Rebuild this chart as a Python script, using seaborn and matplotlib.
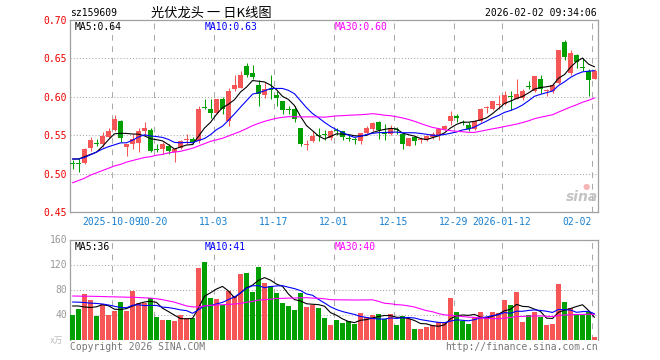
import numpy as np
import pandas as pd
import matplotlib
matplotlib.use("Agg")
import matplotlib.pyplot as plt
import seaborn as sns

# ---------------- data ----------------
open_ = [0.5128, 0.5130, 0.5140, 0.5335, 0.5392, 0.5380, 0.5480, 0.5565, 0.5680, 0.5350,
         0.5380, 0.5400, 0.5560, 0.5574, 0.5315, 0.5320, 0.5365, 0.5280, 0.5335, 0.5438,
         0.5457, 0.5420, 0.5859, 0.5835, 0.5790, 0.5970, 0.5680, 0.6096, 0.6120, 0.6400,
         0.6313, 0.6160, 0.6017, 0.6089, 0.6017, 0.5940, 0.5828, 0.5840, 0.5596, 0.5378,
         0.5430, 0.5489, 0.5512, 0.5465, 0.5554, 0.5550, 0.5459, 0.5437, 0.5422, 0.5530,
         0.5587, 0.5670, 0.5522, 0.5520, 0.5567, 0.5520, 0.5365, 0.5480, 0.5438, 0.5440,
         0.5474, 0.5504, 0.5580, 0.5680, 0.5754, 0.5669, 0.5636, 0.5580, 0.5680, 0.5853,
         0.5846, 0.5898, 0.5900, 0.6002, 0.5974, 0.5987, 0.6134, 0.6075, 0.6237, 0.6073,
         0.6075, 0.6184, 0.6710, 0.6316, 0.6544, 0.6382, 0.6338, 0.6237]
high = [0.5180, 0.5200, 0.5330, 0.5480, 0.5457, 0.5540, 0.5596, 0.5757, 0.5696, 0.5380,
        0.5520, 0.5596, 0.5670, 0.5596, 0.5380, 0.5410, 0.5380, 0.5330, 0.5440, 0.5510,
        0.5480, 0.5880, 0.5970, 0.5965, 0.5965, 0.6000, 0.6120, 0.6290, 0.6335, 0.6440,
        0.6420, 0.6217, 0.6190, 0.6280, 0.6070, 0.5940, 0.5880, 0.5880, 0.5596, 0.5440,
        0.5550, 0.5596, 0.5570, 0.5570, 0.5596, 0.5560, 0.5500, 0.5480, 0.5530, 0.5620,
        0.5670, 0.5680, 0.5640, 0.5630, 0.5610, 0.5530, 0.5470, 0.5490, 0.5480, 0.5500,
        0.5536, 0.5590, 0.5636, 0.5811, 0.5780, 0.5693, 0.5667, 0.5693, 0.5855, 0.5877,
        0.5943, 0.6018, 0.6075, 0.6075, 0.6228, 0.6105, 0.6206, 0.6272, 0.6280, 0.6105,
        0.6175, 0.6614, 0.6746, 0.6614, 0.6557, 0.6500, 0.6360, 0.6360]
low = [0.5060, 0.5020, 0.5130, 0.5300, 0.5357, 0.5350, 0.5465, 0.5550, 0.5410, 0.5226,
       0.5320, 0.5280, 0.5487, 0.5280, 0.5280, 0.5250, 0.5250, 0.5150, 0.5315, 0.5390,
       0.5390, 0.5400, 0.5835, 0.5726, 0.5770, 0.5770, 0.5620, 0.6070, 0.6110, 0.6260,
       0.6226, 0.5880, 0.5987, 0.5970, 0.5880, 0.5770, 0.5770, 0.5670, 0.5365, 0.5310,
       0.5410, 0.5430, 0.5440, 0.5440, 0.5500, 0.5443, 0.5420, 0.5380, 0.5380, 0.5520,
       0.5550, 0.5450, 0.5440, 0.5500, 0.5510, 0.5320, 0.5360, 0.5370, 0.5400, 0.5430,
       0.5450, 0.5440, 0.5570, 0.5636, 0.5667, 0.5636, 0.5560, 0.5570, 0.5667, 0.5790,
       0.5833, 0.5840, 0.5887, 0.5833, 0.5965, 0.5960, 0.6097, 0.6062, 0.6053, 0.6009,
       0.6053, 0.6162, 0.6482, 0.6280, 0.6380, 0.6338, 0.6009, 0.6228]
close = [0.5124, 0.5126, 0.5320, 0.5440, 0.5388, 0.5496, 0.5560, 0.5710, 0.5470, 0.5380,
         0.5457, 0.5550, 0.5600, 0.5290, 0.5311, 0.5380, 0.5300, 0.5320, 0.5420, 0.5442,
         0.5410, 0.5840, 0.5855, 0.5790, 0.5965, 0.5835, 0.6074, 0.6148, 0.6290, 0.6285,
         0.6260, 0.6030, 0.6104, 0.6085, 0.5980, 0.5830, 0.5824, 0.5710, 0.5380, 0.5382,
         0.5496, 0.5485, 0.5508, 0.5550, 0.5550, 0.5478, 0.5455, 0.5433, 0.5530, 0.5596,
         0.5660, 0.5574, 0.5518, 0.5596, 0.5563, 0.5390, 0.5465, 0.5425, 0.5442, 0.5490,
         0.5518, 0.5583, 0.5623, 0.5754, 0.5724, 0.5665, 0.5580, 0.5680, 0.5846, 0.5857,
         0.5943, 0.5902, 0.6018, 0.5998, 0.6030, 0.6075, 0.6130, 0.6272, 0.6096, 0.6077,
         0.6149, 0.6614, 0.6513, 0.6570, 0.6447, 0.6378, 0.6220, 0.6338]
volume = [40, 49.6, 73.6, 64, 38.4, 57.6, 40, 46.4, 60.8, 46.4,
          78.4, 59.2, 59.2, 67.2, 36.8, 32, 32, 30.4, 40, 35.2,
          35.2, 115.2, 124.8, 67.2, 65.6, 56, 78.4, 70.4, 106, 107,
          77, 117, 92, 86, 75, 60, 54, 48, 75, 53,
          56, 51, 35, 24, 32, 27, 30, 26, 43, 37,
          40, 42, 34, 42, 24, 38, 34, 18, 18, 21,
          24, 29, 29, 67, 45, 30, 26, 37, 45, 37,
          45, 43, 64, 56, 77, 29, 40, 45, 37, 24,
          26, 90, 61, 51, 40, 40, 45, 5]

# moving-average values at the left edge (depend on days before the window)
ma5_head = [0.519, 0.519, 0.522, 0.525]
ma10_head = [0.519, 0.519, 0.521, 0.5245, 0.528, 0.532, 0.535, 0.5375, 0.540]
ma30_head = [0.488, 0.491, 0.494, 0.498, 0.501, 0.504, 0.507, 0.510, 0.512, 0.515,
             0.517, 0.519, 0.521, 0.522, 0.524, 0.525, 0.527, 0.528, 0.529, 0.531,
             0.533, 0.536, 0.539, 0.542, 0.544, 0.546, 0.549, 0.552, 0.555]
vma5_head = [54.4, 54.4, 52.8, 52.0]
vma10_head = [60.8, 60.5, 60.0, 59.0, 58.5, 57.6, 56.0, 54.0, 52.0]
vma30_head = [70.4, 70.2, 70.0, 70.0, 69.8, 69.5, 69.2, 69.0, 68.8, 68.5,
              68.3, 68.0, 67.5, 67.0, 66.0, 64.5, 62.5, 60.5, 57.5, 54.5,
              53.0, 53.0, 54.5, 55.5, 56.0, 56.5, 57.0, 57.5, 58.5]

date_labels = ["2025-10-09", "10-20", "11-03", "11-17", "12-01", "12-15",
               "12-29", "2026-01-12", "02-02"]
date_idx = [7, 14, 24, 34, 44, 54, 64, 72, 87]
price_ticks = [0.70, 0.65, 0.60, 0.55, 0.50, 0.45]
vol_ticks = [160, 120, 80, 40]

# ---------------- derived ----------------
open_ = np.array(open_); high = np.array(high); low = np.array(low)
close = np.array(close); volume = np.array(volume, dtype=float)
n = len(close)
idx = np.arange(n)


def ma(values, w, head):
    out = pd.Series(values).rolling(w).mean().to_numpy()
    out[:len(head)] = head
    return out


ma5 = ma(close, 5, ma5_head)
ma10 = ma(close, 10, ma10_head)
ma30 = ma(close, 30, ma30_head)
vma5 = ma(volume, 5, vma5_head)
vma10 = ma(volume, 10, vma10_head)
vma30 = ma(volume, 30, vma30_head)

RED = "#f65656"
GREEN = "#00a000"
GRID = "#aaaaaa"
SPINE = "#a0a0a0"
MONO = ["DejaVu Sans Mono", "Noto Sans CJK SC"]

sns.set_theme(style="white")
plt.rcParams["font.family"] = MONO

W, H = 660, 360
fig = plt.figure(figsize=(6.6, 3.6), dpi=100)
fig.patch.set_facecolor("white")


def fx(x):
    return x / W


def fy(y):
    return 1 - y / H


ax1 = fig.add_axes([fx(70), fy(212), 528 / W, 192 / H])
ax2 = fig.add_axes([fx(70), fy(340), 528 / W, 100 / H])
XMIN = -2.5 / 6

up = close >= open_
colors = np.where(up, RED, GREEN)

# ---------------- price panel ----------------
for p in [0.65, 0.60, 0.55, 0.50]:
    ax1.axhline(p, color=GRID, lw=0.75, ls=(0, (1, 2)), zorder=1)
for i in date_idx:
    ax1.axvline(i + XMIN, color=GRID, lw=0.75, ls=(0, (5.5, 5.5)), zorder=1)

ax1.vlines(idx, low, high, colors=colors, lw=0.75, zorder=3)
body_bottom = np.minimum(open_, close)
body_h = np.maximum(np.abs(close - open_), 0.0012)
ax1.bar(idx, body_h, bottom=body_bottom, width=5 / 6, color=colors, lw=0, zorder=4)

sns.lineplot(x=idx, y=ma5, color="black", lw=0.8, ax=ax1, zorder=5)
sns.lineplot(x=idx, y=ma10, color="#0000ff", lw=0.8, ax=ax1, zorder=5)
sns.lineplot(x=idx, y=ma30, color="#ff00ff", lw=0.8, ax=ax1, zorder=5)
ax1.set_ylim(0.45, 0.70)

# ---------------- volume panel ----------------
for v in [120, 80, 40]:
    ax2.axhline(v, color=GRID, lw=0.75, ls=(0, (1, 2)), zorder=1)
for i in date_idx:
    ax2.axvline(i + XMIN, color=GRID, lw=0.75, ls=(0, (5.5, 5.5)), zorder=1)

vdf = pd.DataFrame({"i": idx, "vol": volume, "dir": np.where(up, "up", "down")})
sns.barplot(data=vdf, x="i", y="vol", hue="dir", palette={"up": RED, "down": GREEN},
            native_scale=True, width=5 / 6, dodge=False, saturation=1,
            errorbar=None, legend=False, linewidth=0, ax=ax2, zorder=3)
sns.lineplot(x=idx, y=vma5, color="black", lw=0.8, ax=ax2, zorder=5)
sns.lineplot(x=idx, y=vma10, color="#0000ff", lw=0.8, ax=ax2, zorder=5)
sns.lineplot(x=idx, y=vma30, color="#ff00ff", lw=0.8, ax=ax2, zorder=5)
ax2.set_ylim(0, 160)

for ax in (ax1, ax2):
    ax.set_xlim(XMIN, XMIN + n)
    ax.set_xticks([])
    ax.set_yticks([])
    ax.set_xlabel("")
    ax.set_ylabel("")
    ax.set_facecolor("white")
    for s in ax.spines.values():
        s.set_color(SPINE)
        s.set_linewidth(0.9)
        s.set_visible(True)
ax2.spines["bottom"].set_visible(False)

# ---------------- texts ----------------
FS = 7
fig.text(fx(70), fy(13), "sz159609", fontsize=FS, va="center", ha="left", color="black")
fig.text(fx(151), fy(13), "光伏龙头 一 日K线图", fontsize=9.5, va="center", ha="left",
         color="black", family=["Noto Sans CJK SC", "DejaVu Sans"])
fig.text(fx(597), fy(13), "2026-02-02 09:34:06", fontsize=FS, va="center", ha="right",
         color="black")

fig.text(fx(75), fy(27), "MA5:%.2f" % ma5[-1], fontsize=FS, va="center", color="black")
fig.text(fx(205), fy(27), "MA10:%.2f" % ma10[-1], fontsize=FS, va="center", color="#0000ff")
fig.text(fx(335), fy(27), "MA30:%.2f" % ma30[-1], fontsize=FS, va="center", color="#ff00ff")

fig.text(fx(75), fy(247), "MA5:%d" % int(vma5[-1]), fontsize=FS, va="center", color="black")
fig.text(fx(205), fy(247), "MA10:%d" % int(vma10[-1]), fontsize=FS, va="center", color="#0000ff")
fig.text(fx(335), fy(247), "MA30:%d" % int(vma30[-1]), fontsize=FS, va="center", color="#ff00ff")

for p in price_ticks:
    y = 20 + (0.70 - p) / 0.25 * 192
    fig.text(fx(67), fy(y + 1), "%.2f" % p, fontsize=FS, va="center", ha="right", color="#ee0000")
for v in vol_ticks:
    y = 340 - v / 160 * 100
    fig.text(fx(67), fy(y), "%d" % v, fontsize=FS, va="center", ha="right", color="#999999")
fig.text(fx(56), fy(340), "x万", fontsize=6, va="center", ha="center", color="#bbbbbb")

for lab, i in zip(date_labels, date_idx):
    xpix = 70 + 6 * i
    if i == date_idx[-1]:
        fig.text(fx(xpix), fy(222), lab, fontsize=FS, va="center", ha="right", color="#1a80d0")
    else:
        fig.text(fx(xpix), fy(222), lab, fontsize=FS, va="center", ha="center", color="#1a80d0")

fig.text(fx(70), fy(347), "Copyright 2026 SINA.COM", fontsize=FS, va="center", ha="left",
         color="#777777")
fig.text(fx(598), fy(347), "http://finance.sina.com.cn", fontsize=FS, va="center", ha="right",
         color="#777777")

# sina watermark
fig.text(fx(582), fy(197), "sina", fontsize=10, va="center", ha="center", color="#c4c4c4",
         fontstyle="italic", fontweight="bold", family=["DejaVu Sans"])
fig.text(fx(586), fy(186), "●", fontsize=6, va="center", ha="center", color="#f5b5b5",
         family=["DejaVu Sans"])

fig.savefig("out.png", dpi=100, facecolor="white")
